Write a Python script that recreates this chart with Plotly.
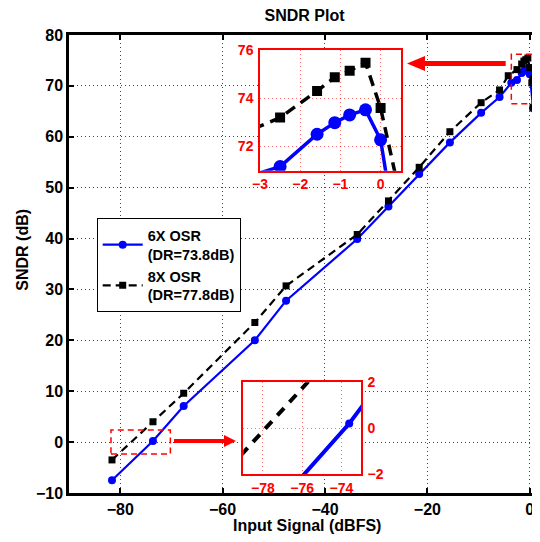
import plotly.graph_objects as go

# ---------------- data ----------------
x_6x = [-81.6, -73.6, -67.6, -53.7, -47.6, -33.7, -27.6, -21.6, -15.6, -9.5, -5.9,
        -3.6, -2.5, -1.58, -1.14, -0.77, -0.375, 0.0, 0.65]
y_6x = [-7.5, 0.2, 7.1, 20.0, 27.8, 39.9, 46.3, 52.7, 58.9, 64.7, 67.8,
        70.6, 71.17, 72.51, 72.99, 73.31, 73.52, 72.28, 65.6]

x_8x = [-81.6, -73.6, -67.6, -53.7, -47.6, -33.7, -27.6, -21.6, -15.6, -9.5, -5.9,
        -4.2, -2.5, -1.58, -1.14, -0.77, -0.375, 0.0, 0.4, 0.65]
y_8x = [-3.5, 4.0, 9.6, 23.5, 30.7, 40.8, 47.4, 54.0, 61.0, 66.7, 69.2,
        72.0, 73.2, 74.3, 74.87, 75.14, 75.47, 73.6, 70.6, 65.8]

name_6x = "6X OSR<br>(DR=73.8dB)"
name_8x = "8X OSR<br>(DR=77.8dB)"

main_xticks = [-80, -60, -40, -20, 0]
main_yticks = [-10, 0, 10, 20, 30, 40, 50, 60, 70, 80]
top_xticks = [-3, -2, -1, 0]
top_yticks = [72, 74, 76]
bot_xticks = [-78, -76, -74]
bot_yticks = [-2, 0, 2]

# ---------------- geometry helpers ----------------
# the page body adds an 8px offset, so the figure is shifted back by OFF
OFF = 8
W, H = 540, 542
PL, PR, PT, PB = 69, 540, 35, 493          # plot area in picture pixels
ML, MR, MT, MB = PL - OFF, W - (PR - OFF), PT - OFF, H - (PB - OFF)
PW, PH = PR - PL, PB - PT


def px(xp):
    return (xp - PL) / PW


def py(yp):
    return (PB - yp) / PH


BLUE = "#0000FF"
RED = "#FF0000"
FONT = "Liberation Sans, Arial, Helvetica, sans-serif"

fig = go.Figure()

# main plot
fig.add_trace(go.Scatter(x=x_6x, y=y_6x, mode="lines+markers", name=name_6x,
                         legendgroup="a",
                         line=dict(color=BLUE, width=2.2),
                         marker=dict(symbol="circle", size=8, color=BLUE),
                         xaxis="x", yaxis="y"))
fig.add_trace(go.Scatter(x=x_8x, y=y_8x, mode="lines+markers", name=name_8x,
                         legendgroup="b",
                         line=dict(color="black", width=2.2, dash="8px,5px"),
                         marker=dict(symbol="square", size=7, color="black"),
                         xaxis="x", yaxis="y"))

# top inset
fig.add_trace(go.Scatter(x=x_6x, y=y_6x, mode="lines+markers", showlegend=False,
                         line=dict(color=BLUE, width=3.5),
                         marker=dict(symbol="circle", size=13, color=BLUE),
                         xaxis="x2", yaxis="y2"))
fig.add_trace(go.Scatter(x=x_8x, y=y_8x, mode="lines+markers", showlegend=False,
                         line=dict(color="black", width=3.5, dash="11px,7px"),
                         marker=dict(symbol="square", size=10, color="black"),
                         xaxis="x2", yaxis="y2"))

# bottom inset
fig.add_trace(go.Scatter(x=x_6x, y=y_6x, mode="lines+markers", showlegend=False,
                         line=dict(color=BLUE, width=4),
                         marker=dict(symbol="circle", size=8, color=BLUE),
                         xaxis="x3", yaxis="y3"))
fig.add_trace(go.Scatter(x=x_8x, y=y_8x, mode="lines+markers", showlegend=False,
                         line=dict(color="black", width=4, dash="10px,8px"),
                         marker=dict(symbol="square", size=8, color="black"),
                         xaxis="x3", yaxis="y3"))

main_ax = dict(showline=True, linecolor="black", linewidth=2.5,
               ticks="inside", ticklen=5, tickwidth=1.5, tickcolor="black",
               showgrid=True, gridcolor="#444444", griddash="1px,3px", gridwidth=1,
               zeroline=False, automargin=False,
               tickfont=dict(size=16, color="black", weight="bold"))

inset_ax = dict(showline=True, linecolor=RED, linewidth=1.5, mirror=True,
                ticks="", showgrid=True, gridcolor="rgba(255,0,0,0.55)",
                griddash="1px,3px", gridwidth=1, zeroline=False, automargin=False,
                tickfont=dict(size=14, color=RED, weight="bold"))

fig.update_layout(
    width=W, height=H,
    margin=dict(l=ML, r=MR, t=MT, b=MB, pad=0, autoexpand=False),
    paper_bgcolor="white", plot_bgcolor="white",
    font=dict(family=FONT, size=16, color="black", weight="bold"),
    title=dict(text="SNDR Plot", x=0.5, xref="paper", xanchor="center",
               y=1 - (15 - OFF) / H, yref="container", yanchor="middle",
               font=dict(size=16, weight="bold", color="black")),
    xaxis=dict(domain=[0, 1], anchor="y", range=[-90, 2], tickvals=main_xticks,
               mirror="ticks", ticklabelstandoff=0, **main_ax),
    yaxis=dict(domain=[0, 1], anchor="x", range=[-10, 80], tickvals=main_yticks,
               mirror=False, ticklabelstandoff=0, **main_ax),
    xaxis2=dict(domain=[px(260), px(400.7)], anchor="y2", range=[-3, 0.5],
                tickvals=top_xticks, ticklabelstandoff=0, **inset_ax),
    yaxis2=dict(domain=[py(170.7), py(50)], anchor="x2", range=[71, 76],
                tickvals=top_yticks, ticklabelstandoff=2, **inset_ax),
    xaxis3=dict(domain=[px(243.3), px(361)], anchor="y3", range=[-79, -73],
                tickvals=bot_xticks, ticklabelstandoff=0, **inset_ax),
    yaxis3=dict(domain=[py(474), py(382.3)], anchor="x3", range=[-2, 2], side="right",
                tickvals=bot_yticks, ticklabelstandoff=2, **inset_ax),
    legend=dict(x=px(96.7), y=py(218.3), xanchor="left", yanchor="top",
                xref="paper", yref="paper",
                bgcolor="white", bordercolor="black", borderwidth=1,
                font=dict(size=14.5, color="black", weight="bold"),
                itemwidth=40, tracegroupgap=0, valign="middle"),
    showlegend=True,
)

# axis titles
fig.add_annotation(text="Input Signal (dBFS)", xref="paper", yref="paper",
                   x=px(306.7), y=py(525), xanchor="center", yanchor="middle",
                   showarrow=False, font=dict(size=16, weight="bold", color="black"))
fig.add_annotation(text="SNDR (dB)", xref="paper", yref="paper",
                   x=px(21.7), y=py(250), xanchor="center", yanchor="middle",
                   textangle=-90, showarrow=False,
                   font=dict(size=16, weight="bold", color="black"))

# dashed zoom-region markers
fig.add_shape(type="rect", xref="x", yref="y", x0=-81.8, x1=-70.2, y0=-2.36, y1=2.36,
              line=dict(color=RED, width=1.5, dash="6px,4px"))
fig.add_shape(type="rect", xref="x", yref="y", x0=-3.6, x1=1.4, y0=66.5, y1=76.2,
              line=dict(color=RED, width=1.5, dash="6px,4px"))


def arrow_path(points):
    return "M " + " L ".join(f"{px(a):.5f},{py(b):.5f}" for a, b in points) + " Z"


# top arrow (pointing left)
fig.add_shape(type="path", xref="paper", yref="paper", fillcolor=RED,
              line=dict(width=0), layer="above",
              path=arrow_path([(505.7, 61), (425, 61), (425, 56), (407, 63.5),
                               (425, 71), (425, 66), (505.7, 66)]))
# bottom arrow (pointing right)
fig.add_shape(type="path", xref="paper", yref="paper", fillcolor=RED,
              line=dict(width=0), layer="above",
              path=arrow_path([(174, 439), (224, 439), (224, 435), (236, 441),
                               (224, 447), (224, 443), (174, 443)]))

fig.write_html("out.html")
